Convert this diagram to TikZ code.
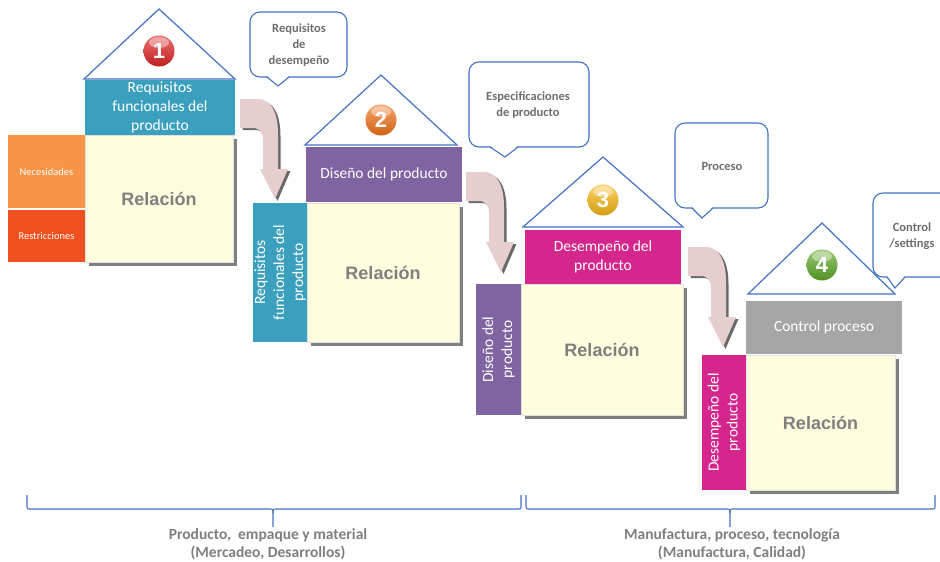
\documentclass[tikz,border=0pt]{standalone}
\usepackage{fontspec}
\setmainfont{Carlito}
\newfontfamily\arialfont{Liberation Sans}
\definecolor{cteal}{RGB}{59,160,190}
\definecolor{cpurple}{RGB}{128,100,162}
\definecolor{cmagenta}{RGB}{212,38,140}
\definecolor{cgrayhdr}{RGB}{166,166,166}
\definecolor{corange}{RGB}{247,148,70}
\definecolor{credor}{RGB}{240,80,30}
\definecolor{cyellow}{RGB}{254,254,222}
\definecolor{cshadow}{RGB}{128,128,128}
\definecolor{croof}{RGB}{68,114,196}
\definecolor{carrow}{RGB}{230,206,207}
\definecolor{carrowsh}{RGB}{105,105,105}
\definecolor{ctextgray}{RGB}{127,127,127}
\definecolor{ccallout}{RGB}{110,110,110}
\definecolor{cballred}{RGB}{225,35,35}
\definecolor{cballorange}{RGB}{245,115,25}
\definecolor{cballyellow}{RGB}{248,185,20}
\definecolor{cballgreen}{RGB}{95,170,40}
\newcommand\arrowshape[1]{%
  \fill[#1] (0,0) -- (18,0) .. controls (30,0) and (38,12) .. (38,35) -- (38,70)
    -- (48,70) -- (35,100) -- (20,70) -- (23,70) -- (23,42)
    .. controls (23,33) and (20,29) .. (12,29) -- (0,29) -- cycle;}
\newcommand\bigcurvedarrow[1]{%
  \begin{scope}[shift={#1}]
    \begin{scope}[shift={(2.5,2)}]\arrowshape{carrowsh}\end{scope}
    \arrowshape{carrow}
  \end{scope}}
\newcommand\calloutbox[8]{% x1 y1 x2 y2 tl tipx tipy tr
  \draw[calloutline, fill=white, rounded corners=10pt] (#1,#2) rectangle (#3,#4);
  \fill[white] (#5,#4-1.5) -- (#6,#7) -- (#8,#4-1.5) -- cycle;
  \draw[calloutline] (#5,#4) -- (#6,#7) -- (#8,#4);}
\newcommand\numball[4]{% name, position, colour, number
  \node[ball, top color=#3!65!white, bottom color=#3!85!black] (#1) at #2 {#4};
  \fill[white, opacity=0.4] ([yshift=8.5pt]#1.center) ellipse[x radius=10, y radius=5.5];}
\begin{document}
\begin{tikzpicture}[x=1pt,y=-1pt,
  box/.style={rectangle, inner sep=0pt, outer sep=0pt, text=white, align=center,
    font=\fontsize{15.5}{19}\selectfont},
  side/.style={rectangle, inner sep=0pt, outer sep=0pt, text=white, align=center,
    font=\fontsize{10.5}{12}\selectfont},
  rel/.style={rectangle, inner sep=0pt, outer sep=0pt, fill=cyellow, draw=black!12,
    text=ctextgray, font=\arialfont\bfseries\fontsize{18}{22}\selectfont},
  roof/.style={draw=croof, line width=1.2pt, fill=white, line join=miter},
  calloutline/.style={draw=croof, line width=1.1pt},
  ctext/.style={text=ccallout, align=center, inner sep=0pt,
    font=\bfseries\fontsize{12.5}{16}\selectfont},
  ball/.style={circle, minimum size=31pt, inner sep=0pt, text=white,
    font=\arialfont\bfseries\fontsize{22}{22}\selectfont},
  bracel/.style={draw=croof, line width=1.1pt},
  btext/.style={text=ctextgray, align=center, inner sep=0pt,
    font=\bfseries\fontsize{15.5}{18.5}\selectfont}]
\useasboundingbox (0,0) rectangle (940,562);
\clip (0,0) rectangle (940,562);
\fill[white] (0,0) rectangle (940,562);

% ---------- callouts ----------
\calloutbox{250}{12}{347}{77}{267}{278}{86}{289}
\node[ctext] (c1) at (299,45) {Requisitos\\de\\desempeño};
\calloutbox{469}{62}{589}{147}{490}{505}{157}{518}
\node[ctext] (c2) at (528,105) {Especificaciones\\de producto};
\calloutbox{675}{123}{768}{208}{692}{702}{218}{713}
\node[ctext] (c3) at (722,166) {Proceso};
\calloutbox{873}{193}{965}{277}{887}{895}{288}{905}
\node[ctext] (c4) at (912,236.5) {Control\\/settings};

% ---------- house 1 ----------
\draw[roof] (84,79) -- (159,9) -- (235,79) -- cycle;
\numball{b1}{(159,51)}{cballred}{1}
\node[box, fill=cteal, minimum width=150pt, minimum height=55pt] (h1) at (160,107.5)
  {Requisitos\\funcionales del\\producto};
\fill[cshadow] (89,139) rectangle (237,266);
\node[rel, minimum width=148pt, minimum height=127pt] (r1) at (159,198.5) {Relación};
\node[side, fill=corange, minimum width=77pt, minimum height=73pt] (nec) at (46.5,171.5) {Necesidades};
\node[side, fill=credor, minimum width=77pt, minimum height=52pt] (res) at (46.5,236) {Restricciones};

% ---------- house 2 ----------
\draw[roof] (305,145) -- (381,75) -- (457,145) -- cycle;
\numball{b2}{(381,120)}{cballorange}{2}
\node[box, fill=cpurple, minimum width=156pt, minimum height=55pt] (h2) at (384,174.5)
  {Diseño del producto};
\fill[cshadow] (311,207) rectangle (463,346);
\node[rel, minimum width=152pt, minimum height=139pt] (r2) at (383,272.5) {Relación};
\node[box, fill=cteal, rotate=90, minimum width=139pt, minimum height=54pt] (v2) at (280,272.5)
  {Requisitos\\funcionales del\\producto};

% ---------- house 3 ----------
\draw[roof] (523,227) -- (603,157) -- (683,227) -- cycle;
\numball{b3}{(603,200)}{cballyellow}{3}
\node[box, fill=cmagenta, minimum width=156pt, minimum height=54pt] (h3) at (603,257)
  {Desempeño del\\producto};
\fill[cshadow] (525,288) rectangle (687,419);
\node[rel, minimum width=162pt, minimum height=131pt] (r3) at (602,349.5) {Relación};
\node[box, fill=cpurple, rotate=90, minimum width=131pt, minimum height=45pt] (v3) at (498.5,349.5)
  {Diseño del\\producto};

% ---------- house 4 ----------
\draw[roof] (748,294) -- (822,223) -- (895,294) -- cycle;
\numball{b4}{(822,265)}{cballgreen}{4}
\node[box, fill=cgrayhdr, minimum width=156pt, minimum height=53pt] (h4) at (824,327.5)
  {Control proceso};
\fill[cshadow] (750,359) rectangle (899,494);
\node[rel, minimum width=149pt, minimum height=135pt] (r4) at (820.5,422.5) {Relación};
\node[box, fill=cmagenta, rotate=90, minimum width=135pt, minimum height=44pt] (v4) at (724,422.5)
  {Desempeño del\\producto};

% ---------- curved arrows ----------
\bigcurvedarrow{(240,99)}
\bigcurvedarrow{(466,172)}
\bigcurvedarrow{(688,247)}

% ---------- braces ----------
\draw[bracel] (27,495) -- (27,505) .. controls (27,509) .. (31,509) -- (269,509)
  .. controls (273,509) .. (273,513) -- (273,527);
\draw[bracel] (273,513) .. controls (273,509) .. (277,509) -- (517,509)
  .. controls (521,509) .. (521,505) -- (521,495);
\draw[bracel] (526,495) -- (526,505) .. controls (526,509) .. (530,509) -- (726,509)
  .. controls (730,509) .. (730,513) -- (730,527);
\draw[bracel] (730,513) .. controls (730,509) .. (734,509) -- (931,509)
  .. controls (935,509) .. (935,505) -- (935,495);
\node[btext] (t1) at (268,544) {Producto,\ \ empaque y material\\(Mercadeo, Desarrollos)};
\node[btext] (t2) at (732,544) {Manufactura, proceso, tecnología\\(Manufactura, Calidad)};
\end{tikzpicture}
\end{document}
